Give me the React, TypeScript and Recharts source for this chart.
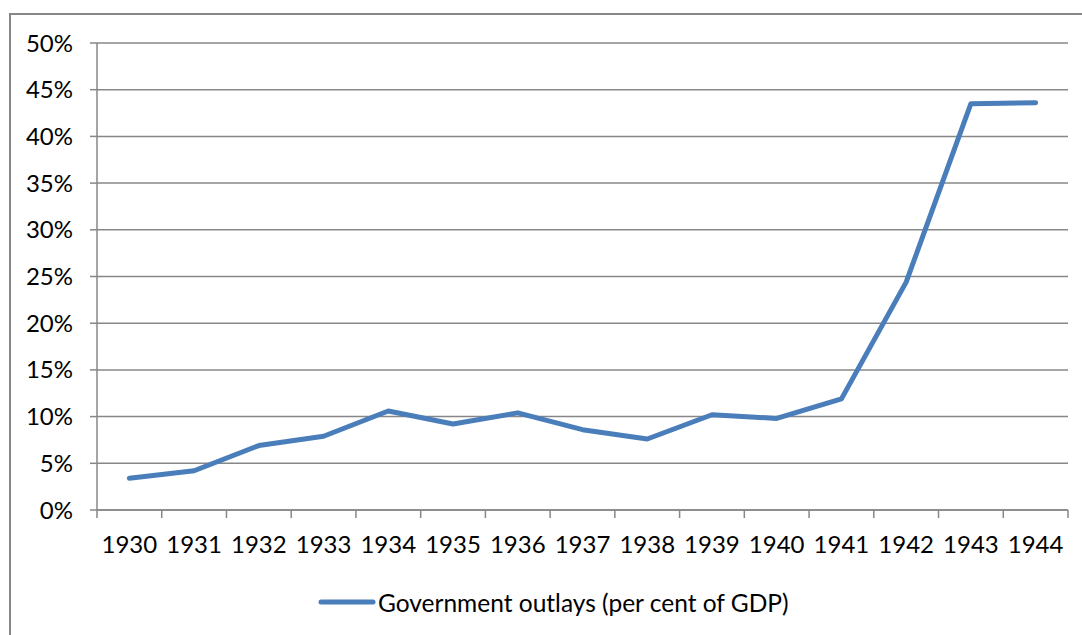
import { LineChart, Line, XAxis, YAxis, CartesianGrid, Legend } from "recharts";

const years = ["1930", "1931", "1932", "1933", "1934", "1935", "1936", "1937", "1938", "1939", "1940", "1941", "1942", "1943", "1944"];
const outlays = [3.4, 4.2, 6.9, 7.9, 10.6, 9.2, 10.4, 8.6, 7.6, 10.2, 9.8, 11.9, 24.4, 43.5, 43.6];
const yTicks = [0, 5, 10, 15, 20, 25, 30, 35, 40, 45, 50];
const seriesName = "Government outlays (per cent of GDP)";

const W = 1082;
const H = 635;
const Y_AXIS_W = 97;
const MARGIN = { top: 43, right: 14, left: 0, bottom: 20 };
const BAND = (W - Y_AXIS_W - MARGIN.left - MARGIN.right) / years.length;
const FONT = "Lato, 'Open Sans', sans-serif";
const FONT_SIZE = 24;
const GRAY = "#878787";
const BLUE = "#4A7EBB";

// points sit in the middle of each year's slot, tick marks on the slot edges
const data = years.map((year, i) => ({ x: i + 0.5, year, value: outlays[i] }));
const edgeTicks = years.map((_, i) => i).concat(years.length);

function YearTick(props: any) {
  const { x, y, payload } = props;
  const i = payload.value;
  if (i >= years.length) return null;
  return (
    <text x={x + BAND / 2} y={y} dy="0.71em" textAnchor="middle" fill="#000" fontSize={FONT_SIZE} fontFamily={FONT}>
      {years[i]}
    </text>
  );
}

function LegendContent() {
  return (
    <div style={{ display: "flex", alignItems: "center", height: 30, fontFamily: FONT, fontSize: 24.5, color: "#000" }}>
      <svg width={58} height={10}>
        <line x1={3} y1={5} x2={55} y2={5} stroke={BLUE} strokeWidth={5} strokeLinecap="round" />
      </svg>
      <span style={{ marginLeft: 2, whiteSpace: "nowrap" }}>{seriesName}</span>
    </div>
  );
}

export default function App() {
  return (
    <div style={{ position: "absolute", left: 0, top: 0, width: W, height: H, overflow: "hidden", background: "#fff" }}>
      <div
        style={{
          position: "absolute",
          left: 9,
          top: 13,
          width: W,
          height: H,
          borderLeft: `2px solid ${GRAY}`,
          borderTop: `2px solid ${GRAY}`,
        }}
      />
      <LineChart width={W} height={H} data={data} margin={MARGIN}>
        <CartesianGrid vertical={false} stroke={GRAY} strokeWidth={1.5} />
        <XAxis
          dataKey="x"
          type="number"
          domain={[0, years.length]}
          ticks={edgeTicks}
          interval={0}
          tick={<YearTick />}
          tickSize={8}
          tickMargin={18}
          height={75}
          axisLine={{ stroke: GRAY, strokeWidth: 1.5 }}
          tickLine={{ stroke: GRAY, strokeWidth: 1.5 }}
        />
        <YAxis
          type="number"
          domain={[0, 50]}
          ticks={yTicks}
          interval={0}
          width={Y_AXIS_W}
          tickSize={7}
          tickMargin={17}
          tickFormatter={(v: number) => `${v}%`}
          tick={{ fill: "#000", fontSize: FONT_SIZE, fontFamily: FONT }}
          axisLine={{ stroke: GRAY, strokeWidth: 1.5 }}
          tickLine={{ stroke: GRAY, strokeWidth: 1.5 }}
        />
        <Legend
          verticalAlign="bottom"
          content={<LegendContent />}
          wrapperStyle={{ left: 318, width: "auto", bottom: 18 }}
        />
        <Line
          type="linear"
          dataKey="value"
          name={seriesName}
          stroke={BLUE}
          strokeWidth={5}
          strokeLinecap="round"
          strokeLinejoin="round"
          dot={false}
          activeDot={false}
          isAnimationActive={false}
        />
      </LineChart>
    </div>
  );
}
